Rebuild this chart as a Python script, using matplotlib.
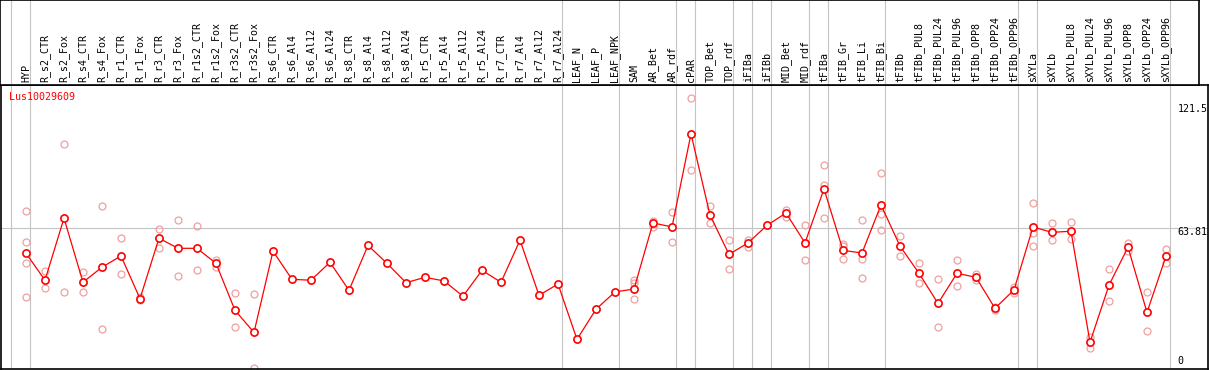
import matplotlib
matplotlib.use("Agg")
import matplotlib.pyplot as plt

categories = ["HYP", "R_s2_CTR", "R_s2_Fox", "R_s4_CTR", "R_s4_Fox", "R_r1_CTR", "R_r1_Fox",
              "R_r3_CTR", "R_r3_Fox", "R_r1s2_CTR", "R_r1s2_Fox", "R_r3s2_CTR", "R_r3s2_Fox",
              "R_s6_CTR", "R_s6_Al4", "R_s6_Al12", "R_s6_Al24", "R_s8_CTR", "R_s8_Al4",
              "R_s8_Al12", "R_s8_Al24", "R_r5_CTR", "R_r5_Al4", "R_r5_Al12", "R_r5_Al24",
              "R_r7_CTR", "R_r7_Al4", "R_r7_Al12", "R_r7_Al24", "LEAF_N", "LEAF_P", "LEAF_NPK",
              "SAM", "AR_Bet", "AR_rdf", "cPAR", "TOP_Bet", "TOP_rdf", "iFIBa", "iFIBb",
              "MID_Bet", "MID_rdf", "tFIBa", "tFIB_Gr", "tFIB_Li", "tFIB_Bi", "tFIBb",
              "tFIBb_PUL8", "tFIBb_PUL24", "tFIBb_PUL96", "tFIBb_OPP8", "tFIBb_OPP24",
              "tFIBb_OPP96", "sXYLa", "sXYLb", "sXYLb_PUL8", "sXYLb_PUL24", "sXYLb_PUL96",
              "sXYLb_OPP8", "sXYLb_OPP24", "sXYLb_OPP96"]

means = [52.6, 40.6, 68.2, 39.7, 46.4, 51.4, 32.4, 59.3, 54.8, 54.8, 48.1, 27.2, 17.4,
         53.5, 41.0, 40.6, 48.6, 36.1, 56.1, 48.1, 39.5, 41.9, 40.3, 33.5, 45.0, 39.7,
         58.4, 33.9, 38.9, 14.3, 27.7, 35.4, 36.7, 66.1, 64.3, 105.7, 69.6, 52.1, 57.2,
         65.0, 70.5, 57.2, 81.2, 53.9, 52.7, 74.1, 55.8, 43.7, 30.3, 43.7, 41.9, 28.1,
         36.3, 64.3, 61.9, 62.4, 13.0, 38.4, 55.3, 26.3, 51.3]

replicates = [
    [71.4, 57.5, 48.1, 33.0], [44.6, 37.0], [101.1, 35.2], [44.1, 35.2], [73.5, 18.8],
    [59.3, 43.2], [33.1, 31.8], [63.3, 54.8], [67.3, 42.4], [64.6, 45.0], [49.7, 46.6],
    [34.8, 19.7], [34.3, 1.4],
    [], [], [], [], [], [], [], [], [], [], [], [], [], [], [], [], [], [], [],
    [40.7, 39.2, 32.1], [67.0, 64.4], [71.0, 57.5], [121.5, 89.5], [73.5, 65.9],
    [58.4, 45.5], [58.6, 55.4], [], [72.0, 68.7], [65.2, 49.5], [91.9, 83.0, 68.2],
    [56.7, 56.0, 50.0], [67.4, 49.9, 41.5], [88.2, 70.2, 62.8], [60.3, 51.3],
    [48.1, 39.2], [41.0, 19.7], [49.5, 38.0], [43.5, 40.7], [28.6, 27.4], [37.5, 34.8],
    [74.8, 61.5, 55.7], [65.9, 58.4], [66.4, 58.8], [15.5, 10.3], [45.5, 31.4],
    [57.0, 53.5], [35.2, 17.9], [54.5, 48.1],
]

group_breaks = [-1, 0, 28, 31, 34, 35, 37, 38, 39, 41, 42, 45, 52, 53, 60]
ref_value = 63.81
scale_labels = ["121.5", "63.81", "0"]
gene = "Lus10029609"

W, H = 1209, 370
fig = plt.figure(figsize=(W / 100, H / 100), dpi=100)

# pixel geometry helpers
x0_px, dx_px = 26.0, 19.0
def px_to_idx(px):
    return (px - x0_px) / dx_px

y_zero_px, y_scale = 371.5, 2.248
def px_to_val(py):
    return (y_zero_px - py) / y_scale

mono = "DejaVu Sans Mono"
fs = 7.2
grey = "#c4c4c4"
pink = "#f0a0a0"

# main plot axes: x 1..1208 px, y 85..369 px
ax = fig.add_axes([1 / W, (H - 369) / H, (1208 - 1) / W, (369 - 85) / H])
ax.set_xlim(px_to_idx(1), px_to_idx(1208))
ax.set_ylim(px_to_val(369), px_to_val(85))
ax.set_xticks([])
ax.set_yticks([])
for s in ax.spines.values():
    s.set_color("black")
    s.set_linewidth(1.2)

for b in group_breaks:
    ax.axvline(b + 0.23, color=grey, lw=0.8, zorder=1)
ax.axhline(ref_value, color=grey, lw=0.8, zorder=1)

xs = list(range(len(categories)))
for i, reps in enumerate(replicates):
    if reps:
        ax.plot([i] * len(reps), reps, linestyle="none", marker="o", markersize=5.0,
                markerfacecolor="none", markeredgecolor=pink, markeredgewidth=0.9,
                zorder=2, clip_on=True)
ax.plot(xs, means, color="red", lw=0.9, zorder=3)
ax.plot(xs, means, linestyle="none", marker="o", markersize=5.2, markerfacecolor="white",
        markeredgecolor="red", markeredgewidth=1.2, zorder=4)

ax.text((9.3 - 1) / 1207, (369 - 96.5) / 284, gene, transform=ax.transAxes, color="red",
        family=mono, fontsize=fs, ha="left", va="center")

label_y_px = [108.5, 232.0, 361.5]
for lab, py in zip(scale_labels, label_y_px):
    ax.text((1177.5 - 1) / 1207, (369 - py) / 284, lab, transform=ax.transAxes,
            color="black", family=mono, fontsize=fs, ha="left", va="center")

# header axes: x 0..1199 px, y 0..85 px
hx = fig.add_axes([0, (H - 85) / H, 1199 / W, 85 / H])
hx.set_xlim(px_to_idx(0), px_to_idx(1199))
hx.set_ylim(0, 85)
hx.set_xticks([])
hx.set_yticks([])
for s in hx.spines.values():
    s.set_color("black")
    s.set_linewidth(1.2)
for b in group_breaks:
    hx.axvline(b + 0.23, color=grey, lw=0.8, zorder=1)
for i, c in enumerate(categories):
    hx.text(i, 85 - 82.5, c, rotation=90, ha="center", va="bottom", family=mono,
            fontsize=fs, color="black")

fig.savefig("out.png", dpi=100)
